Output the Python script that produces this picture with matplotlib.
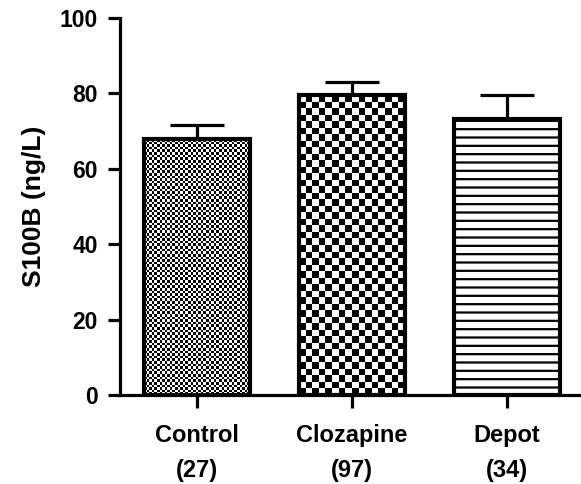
import numpy as np
import matplotlib
matplotlib.use("Agg")
import matplotlib.pyplot as plt

plt.rcParams['font.family'] = ['Liberation Sans', 'DejaVu Sans']
plt.rcParams['font.weight'] = 'bold'
plt.rcParams['hatch.linewidth'] = 1.6

groups = ['Control', 'Clozapine', 'Depot']
counts = ['(27)', '(97)', '(34)']
means = [67.8, 79.5, 73.2]
sem = [3.8, 3.5, 6.4]
yticks = [0, 20, 40, 60, 80, 100]

fig = plt.figure(figsize=(5.81, 4.84), dpi=100)
ax = fig.add_axes([120/581, 89/484, 461/581, 377/484])
x = np.arange(len(groups))
w = 0.68

ax.set_xlim(-0.497, 2.477)
ax.set_ylim(0, 100)

# error bars (upper only), under the bars
ax.errorbar(x, means, yerr=[np.zeros(3), sem], fmt='none', ecolor='black',
            elinewidth=2.3, capsize=19.5, capthick=2.3, zorder=1)

bars = ax.bar(x, means, w, color='white', edgecolor='none', zorder=2)
ax.bar(x, means, w, fill=False, edgecolor='black', linewidth=3, zorder=5)

def checker(bar, cell):
    # checkerboard filling clipped to the bar
    x0, y0 = bar.get_x(), bar.get_y()
    x1, y1 = x0 + bar.get_width(), y0 + bar.get_height()
    p0 = ax.transData.transform((x0, y0))
    p1 = ax.transData.transform((x1, y1))
    nx = int(round((p1[0] - p0[0]) / cell))
    ny = int(round((p1[1] - p0[1]) / cell))
    img = np.add.outer(np.arange(ny), np.arange(nx)) % 2
    im = ax.imshow(img, extent=(x0, x1, y0, y1), origin='lower', aspect='auto',
                   cmap='gray', interpolation='nearest', zorder=3)
    im.set_clip_path(bar)

checker(bars[0], 2.6)
checker(bars[1], 6.5)
bars[2].set_hatch('--')
bars[2].set_edgecolor('black')
bars[2].set_linewidth(0)

ax.set_xticks(x)
ax.set_xticklabels([g + '\n' + c for g, c in zip(groups, counts)],
                   fontsize=17, fontweight='bold', linespacing=1.65)
ax.set_yticks(yticks)
ax.set_yticklabels([str(t) for t in yticks], fontsize=16.5, fontweight='bold')
ax.set_ylabel('S100B (ng/L)', fontsize=19, fontweight='bold', labelpad=10)

for s in ['top', 'right']:
    ax.spines[s].set_visible(False)
for s in ['left', 'bottom']:
    ax.spines[s].set_linewidth(2.3)
ax.tick_params(axis='both', width=2.3, length=9, pad=7)
ax.tick_params(axis='x', pad=12)

fig.savefig('out.png', dpi=100)
